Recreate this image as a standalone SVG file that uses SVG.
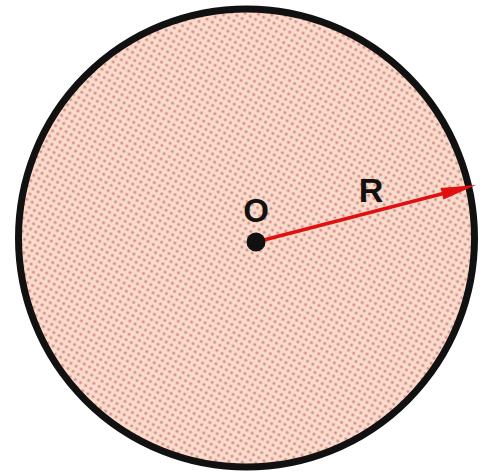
<svg xmlns="http://www.w3.org/2000/svg" width="483" height="473" viewBox="0 0 483 473">
<style>
.lbl{font-family:"Liberation Sans",Arial,sans-serif;font-weight:bold;fill:#111;}
</style>
<defs>
<pattern id="dots" width="6" height="6" patternUnits="userSpaceOnUse" patternTransform="rotate(30)">
<rect width="6" height="6" fill="#f8dccc"/>
<circle cx="3" cy="3" r="1.6" fill="#dc8e8c"/>
</pattern>
</defs>
<g id="disk">
<ellipse cx="246.5" cy="238" rx="228" ry="229" fill="url(#dots)" stroke="#111" stroke-width="7"/>
</g>
<g id="connectors">
<line x1="256" y1="242" x2="450" y2="191.7" stroke="#e01010" stroke-width="3.5"/>
<polygon points="476,185 443.6,199.6 440.6,188.0" fill="#e01010"/>
</g>
<g id="center">
<circle cx="256" cy="242" r="9.5" fill="#111"/>
<text class="lbl" x="256" y="222" font-size="33" text-anchor="middle">O</text>
</g>
<g id="radius-label">
<text class="lbl" x="371" y="202" font-size="34" text-anchor="middle">R</text>
</g>
</svg>
